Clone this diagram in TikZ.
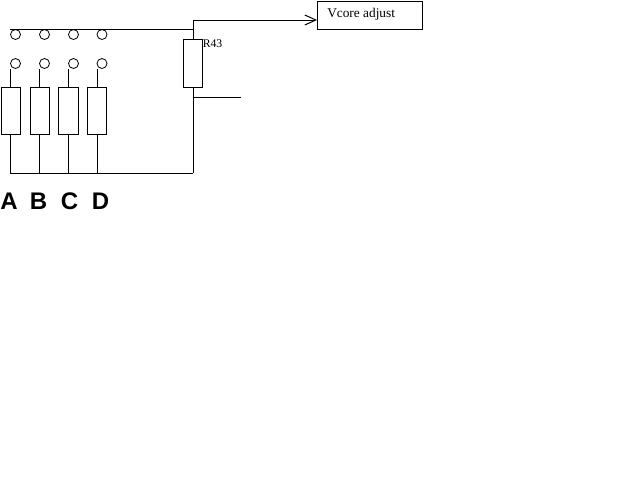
\documentclass[tikz,border=0pt]{standalone}
\usepackage{fontspec}
\setmainfont{Liberation Serif}
\newfontfamily\letterfont{Liberation Sans}
\usetikzlibrary{arrows.meta}
\tikzset{
	wire/.style={line width=0.75pt},
	contact/.style={draw, circle, line width=0.6pt, minimum size=7.5pt, inner sep=0pt, outer sep=0pt},
	resistor/.style={draw, rectangle, line width=0.75pt, minimum width=14.25pt, minimum height=34.875pt, inner sep=0pt, outer sep=0pt},
	letter/.style={font=\letterfont\bfseries\fontsize{18pt}{20pt}\selectfont, inner sep=0pt},
	small/.style={font=\fontsize{8.8pt}{10pt}\selectfont, inner sep=0pt, anchor=west}
}
\begin{document}
\begin{tikzpicture}[x=0.75pt, y=-0.75pt]
		%%%%% START %%%%%
		\useasboundingbox (0, 0) rectangle (640, 480);
		
		\node[contact] (topa) at (15.5, 34.5) {};
		\node[contact] (topb) at (44.5, 34.5) {};
		\node[contact] (topc) at (73.5, 34.5) {};
		\node[contact] (topd) at (102, 34.5) {};
		
		\node[contact] (lowa) at (15.5, 63.5) {};
		\node[contact] (lowb) at (44.5, 63.5) {};
		\node[contact] (lowc) at (73.5, 63.5) {};
		\node[contact] (lowd) at (102, 63.5) {};
		
		\node[resistor] (resa) at (10.75, 110.75) {};
		\node[resistor] (resb) at (39.75, 110.75) {};
		\node[resistor, minimum width=15pt] (resc) at (68.5, 110.75) {};
		\node[resistor] (resd) at (97, 110.75) {};
		\node[resistor, minimum height=36pt] (rvcore) at (193, 63.5) {};
		
		\node[draw, rectangle, line width=0.75pt, minimum width=78.75pt, minimum height=21pt, inner sep=0pt, outer sep=0pt] (vcore) at (369.5, 15) {};
		\node[small, font=\fontsize{10pt}{11pt}\selectfont] (vtext) at (327, 14) {Vcore adjust};
		\node[small] (rtext) at (202.5, 43.5) {R43};
		
		\node[letter] (lettera) at (9, 201) {A};
		\node[letter] (letterb) at (38.5, 201) {B};
		\node[letter] (letterc) at (69.5, 201) {C};
		\node[letter] (letterd) at (100.5, 201) {D};
		
		\coordinate (busstart) at (10, 29.5);
		\coordinate (bend) at (193, 173);
		\coordinate (vtip) at (317, 20);
		\coordinate (tapend) at (241, 97.5);
		
		% top bus and the line to the box
		\draw[wire] (busstart) -- (busstart -| rvcore.north);
		\draw[wire, -{Straight Barb[length=8.25pt, width=7.5pt]}] (rvcore.north) -- (rvcore.north |- vtip) -- (vtip);
		
		% the four legs
		\draw[wire] (resa.north) -- (resa.north |- lowa.south);
		\draw[wire] (resb.north) -- (resb.north |- lowb.south);
		\draw[wire] (resc.north) -- (resc.north |- lowc.south);
		\draw[wire] (resd.north) -- (resd.north |- lowd.south);
		\draw[wire] (resa.south) -- (resa.south |- bend) -- (bend);
		\draw[wire] (resb.south) -- (resb.south |- bend);
		\draw[wire] (resc.south) -- (resc.south |- bend);
		\draw[wire] (resd.south) -- (resd.south |- bend);
		
		\draw[wire] (rvcore.south) -- (bend);
		\draw[wire] (tapend -| rvcore.south) -- (tapend);
		%%%%% END %%%%%
	\end{tikzpicture}
\end{document}
